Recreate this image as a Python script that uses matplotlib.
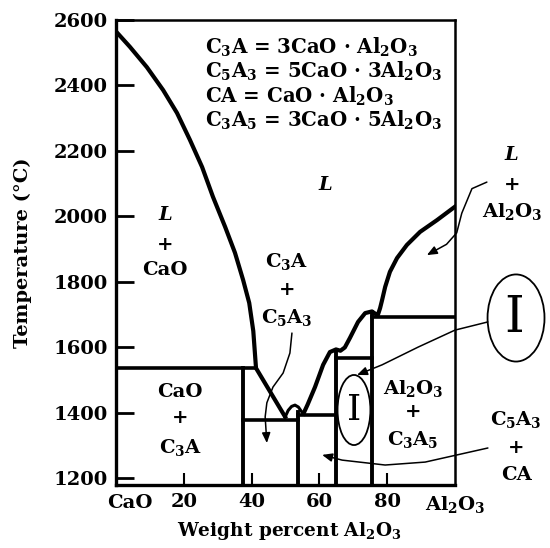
import matplotlib
matplotlib.use('Agg')
import matplotlib.pyplot as plt
from matplotlib.patches import Ellipse, FancyArrowPatch
from matplotlib.path import Path

plt.rcParams['font.family'] = 'DejaVu Serif'
plt.rcParams['font.weight'] = 'bold'
plt.rcParams['axes.labelweight'] = 'bold'
plt.rcParams['mathtext.fontset'] = 'custom'
plt.rcParams['mathtext.rm'] = 'DejaVu Serif:bold'
plt.rcParams['mathtext.it'] = 'DejaVu Serif:italic:bold'
plt.rcParams['mathtext.bf'] = 'DejaVu Serif:bold'

# liquidus, CaO side down to the eutectic
liq_left_x = [0, 4.1, 9.1, 13.9, 18.0, 21.8, 25.4, 28.6, 32.2, 35.1, 37.5, 39.3, 40.5,
              41.3, 49.9]
liq_left_t = [2565, 2518, 2456, 2386, 2316, 2234, 2151, 2060, 1968, 1889, 1806, 1736, 1650,
              1537, 1388]
# small hump over C5A3
hump_x = [49.9, 50.8, 51.8, 52.8, 53.8, 54.6, 55.3]
hump_t = [1388, 1408, 1420, 1424, 1418, 1406, 1398]
# rising to CA, then C3A5, then Al2O3
liq_right_x = [55.3, 56.5, 58.7, 61.1, 63.1, 64.9, 66.2, 67.5, 69.0, 71.4, 73.5, 75.5,
               77.2, 77.9, 78.5, 79.4, 80.8, 82.9, 85.8, 89.7, 94.7, 100]
liq_right_t = [1398, 1425, 1479, 1547, 1586, 1594, 1590, 1600, 1629, 1678, 1705, 1710,
               1698, 1720, 1745, 1785, 1831, 1873, 1913, 1953, 1989, 2030]

# invariant lines
iso_t = [1537, 1379, 1394, 1568, 1692]
iso_x0 = [0, 37.5, 53.7, 64.9, 75.5]
iso_x1 = [41.3, 53.7, 64.9, 75.5, 100]

# compound compositions
comp_x = [37.5, 53.7, 64.9, 75.5]
comp_top = [1537, 1403, 1592, 1708]

y_ticks = [1200, 1400, 1600, 1800, 2000, 2200, 2400, 2600]
x_ticks = [20, 40, 60, 80]

legend_lines = [r'C$_3$A = 3CaO · Al$_2$O$_3$',
                r'C$_5$A$_3$ = 5CaO · 3Al$_2$O$_3$',
                r'CA = CaO · Al$_2$O$_3$',
                r'C$_3$A$_5$ = 3CaO · 5Al$_2$O$_3$']
legend_t = [2518, 2442, 2366, 2295]

# hand drawn arrows
arr_lal_x = [109.4, 105.0, 102.0, 100.5, 97.5, 91.7]
arr_lal_t = [2105, 2085, 2010, 1950, 1915, 1882]
arr_c3a_x = [51.9, 51.3, 49.3, 46.3, 44.5, 44.0, 44.5]
arr_c3a_t = [1644, 1583, 1522, 1479, 1431, 1388, 1308]
arr_big_x = [109.7, 100.0, 89.1, 78.5, 71.1]
arr_big_t = [1678, 1653, 1601, 1547, 1516]
arr_ca_x = [109.7, 91.2, 79.4, 66.7, 60.8]
arr_ca_t = [1293, 1250, 1241, 1256, 1272]

fig = plt.figure(figsize=(5.5, 5.48), dpi=100)
ax = fig.add_axes([116 / 550, 1 - 485 / 548, 339 / 550, 465 / 548])
ax.set_xlim(0, 100)
ax.set_ylim(1180, 2600)

lw = 3.0
ax.plot(liq_left_x, liq_left_t, color='k', lw=lw, solid_joinstyle='round')
ax.plot(hump_x, hump_t, color='k', lw=lw - 0.8)
ax.plot(liq_right_x, liq_right_t, color='k', lw=lw, solid_joinstyle='round')
for t, a, b in zip(iso_t, iso_x0, iso_x1):
    ax.plot([a, b], [t, t], color='k', lw=2.6)
for x, top in zip(comp_x, comp_top):
    ax.plot([x, x], [1180, top], color='k', lw=2.8)

for side in ['left', 'bottom']:
    ax.spines[side].set_linewidth(2.4)
for side in ['top', 'right']:
    ax.spines[side].set_linewidth(1.8)

ax.set_yticks(y_ticks)
ax.set_yticklabels([str(v) for v in y_ticks])
ax.set_xticks(x_ticks)
ax.set_xticklabels([str(v) for v in x_ticks])
ax.tick_params(axis='y', direction='in', length=13, width=2, labelsize=14, pad=6)
ax.tick_params(axis='x', direction='in', length=9, width=1.5, labelsize=14, pad=6)
ax.text(4, -0.02, 'CaO', transform=ax.get_xaxis_transform(), ha='center', va='top', fontsize=14)
ax.text(100, -0.02, r'Al$_2$O$_3$', transform=ax.get_xaxis_transform(), ha='center', va='top',
        fontsize=14)
ax.set_xlabel(r'Weight percent Al$_2$O$_3$', fontsize=13.3, labelpad=4)
ax.xaxis.set_label_coords(0.51, -0.075)
ax.set_ylabel('Temperature (°C)', fontsize=14, labelpad=15)

for txt, t in zip(legend_lines, legend_t):
    ax.text(26.3, t, txt, fontsize=14.2, ha='left', va='center')

fs = 14
def stack(x, ts, parts):
    for t, p in zip(ts, parts):
        ax.text(x, t, p, fontsize=fs, ha='center', va='center', clip_on=False)

stack(14.5, [2005, 1913, 1837], [r'$\it{L}$', '+', 'CaO'])
stack(61.7, [2096], [r'$\it{L}$'])
stack(116.8, [2188, 2096, 2014], [r'$\it{L}$', '+', r'Al$_2$O$_3$'])
stack(50.4, [1861, 1776, 1690], [r'C$_3$A', '+', r'C$_5$A$_3$'])
stack(18.9, [1464, 1385, 1293], ['CaO', '+', r'C$_3$A'])
stack(87.6, [1476, 1403, 1318], [r'Al$_2$O$_3$', '+', r'C$_3$A$_5$'])
stack(118, [1379, 1293, 1211], [r'C$_5$A$_3$', '+', 'CA'])

def curvy_arrow(xs, ts):
    verts = list(zip(xs, ts))
    codes = [Path.MOVETO] + [Path.LINETO] * (len(verts) - 1)
    arr = FancyArrowPatch(path=Path(verts, codes), arrowstyle='-|>,head_length=6,head_width=2.5',
                          color='k', lw=1.1, clip_on=False, joinstyle='round')
    ax.add_patch(arr)

curvy_arrow(arr_lal_x, arr_lal_t)
curvy_arrow(arr_c3a_x, arr_c3a_t)
curvy_arrow(arr_big_x, arr_big_t)
curvy_arrow(arr_ca_x, arr_ca_t)

ax.add_patch(Ellipse((118, 1690), 16.8, 266, fill=False, lw=1.3, color='k', clip_on=False))
ax.text(117.5, 1690, 'I', fontsize=36, fontweight='normal', ha='center', va='center', clip_on=False)
ax.add_patch(Ellipse((70.2, 1409), 9.7, 214, fill=False, lw=1.3, color='k', clip_on=False))
ax.text(70.2, 1409, 'I', fontsize=26, fontweight='normal', ha='center', va='center', clip_on=False)

fig.savefig('out.png', dpi=100)
